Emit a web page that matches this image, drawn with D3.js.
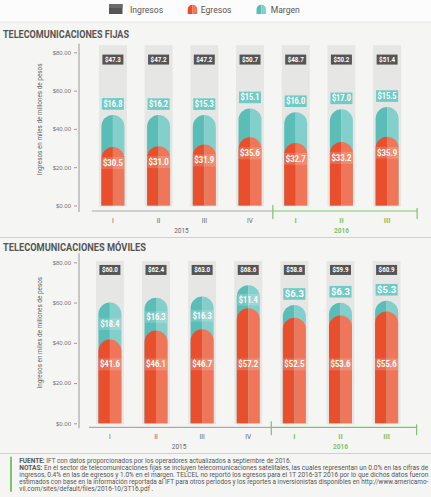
<!DOCTYPE html>
<html>
<head>
<meta charset="utf-8">
<script src="https://cdn.jsdelivr.net/npm/d3@7"></script>
<style>
  body { margin: 0; padding: 0; background: #f5f5f3; }
  svg { display: block; font-family: Roboto, "Open Sans", sans-serif; }
  .tick text { fill: #777; font-size: 6px; }
  .tick line { stroke: #999; }
</style>
</head>
<body>
<svg id="chart" width="431" height="497"></svg>
<script>
const width = 431;
const height = 497;

/* DATA */
const quarters = ["I", "II", "III", "IV", "I", "II", "III"];
const years = ["2015", "2015", "2015", "2015", "2016", "2016", "2016"];

const fijasIngresos = [47.3, 47.2, 47.2, 50.7, 48.7, 50.2, 51.4];
const fijasEgresos = [30.5, 31.0, 31.9, 35.6, 32.7, 33.2, 35.9];
const fijasMargen = [16.8, 16.2, 15.3, 15.1, 16.0, 17.0, 15.5];

const movilesIngresos = [60.0, 62.4, 63.0, 68.6, 58.8, 59.9, 60.9];
const movilesEgresos = [41.6, 46.1, 46.7, 57.2, 52.5, 53.6, 55.6];
const movilesMargen = [18.4, 16.3, 16.3, 11.4, 6.3, 6.3, 5.3];

const yTicks = [0, 20, 40, 60, 80];

const colors = {
  gray: "#555555",
  column: "#e6e6e5",
  orange: "#e94f2d",
  orangeLight: "#ef7659",
  teal: "#5bbdb8",
  tealLight: "#82cfcb",
  tealLabel: "#70cbc6",
  green: "#7cc56c",
  text: "#555555"
};

const svg = d3.select("svg#chart");

/* BACKGROUND */
svg.append("rect").attr("width", width).attr("height", height).attr("fill", "#f5f5f3");
svg.append("rect").attr("width", width).attr("height", 22).attr("fill", "#fcfcfc");
svg.append("line").attr("x1", 0).attr("x2", width).attr("y1", 22).attr("y2", 22)
  .attr("stroke", "#e8e8e6");

drawLegend();

drawPanel({
  title: "TELECOMUNICACIONES FIJAS",
  titleY: 38,
  titleLength: 126,
  ingresos: fijasIngresos,
  egresos: fijasEgresos,
  margen: fijasMargen,
  yRange: [205.5, 52.3],
  xRange: [90.2, 409.8],
  columnTop: 83.7,
  axisY: 211,
  tealInside: false,
  orangeFixed: null
});

svg.append("line").attr("x1", 0).attr("x2", width).attr("y1", 237.5).attr("y2", 237.5)
  .attr("stroke", "#cfcfcd").attr("stroke-width", 1);

drawPanel({
  title: "TELECOMUNICACIONES MÓVILES",
  titleY: 250.7,
  titleLength: 143,
  ingresos: movilesIngresos,
  egresos: movilesEgresos,
  margen: movilesMargen,
  yRange: [423.3, 262.3],
  xRange: [87, 409.5],
  columnTop: 80.6,
  axisY: 427.3,
  tealInside: true,
  orangeFixed: 29.3
});

drawFooter();


/* LEGEND */
function drawLegend() {
  const legend = svg.append("g").attr("id", "legend");

  legend.append("rect").attr("x", 109).attr("y", 4).attr("width", 13.5).attr("height", 10)
    .attr("fill", colors.gray);
  legend.append("rect").attr("x", 109).attr("y", 4).attr("width", 13.5).attr("height", 4)
    .attr("fill", "#6a6a6a");

  legend.append("g").call(g => drawHalves(g, 187.7, 14, 4.7, 9.6, colors.orange, colors.orangeLight));
  legend.append("g").call(g => drawHalves(g, 256.5, 14, 4.7, 9.6, colors.teal, colors.tealLight));

  const items = [["Ingresos", 130], ["Egresos", 200.7], ["Margen", 270.7]];
  legend.selectAll("text.legend-label")
    .data(items)
    .enter()
    .append("text")
    .attr("class", "legend-label")
    .attr("x", d => d[1])
    .attr("y", 12.8)
    .attr("font-size", 8.6)
    .attr("fill", colors.text)
    .text(d => d[0]);
}


/* PANEL */
function drawPanel(cfg) {
  const keys = quarters.map((q, i) => years[i] + "-" + q);

  const x = d3.scaleBand().domain(keys).range(cfg.xRange).paddingInner(0.387).paddingOuter(0.19);
  const y = d3.scaleLinear().domain([0, 80]).range(cfg.yRange);

  const step = x.step();
  const colW = 28;
  const barW = 23;
  const center = k => x(k) + x.bandwidth() / 2;

  const plot = svg.append("g");

  // title
  plot.append("text")
    .attr("x", 3)
    .attr("y", cfg.titleY)
    .attr("font-size", 10)
    .attr("font-weight", "bold")
    .attr("fill", colors.text)
    .attr("textLength", cfg.titleLength)
    .attr("lengthAdjust", "spacingAndGlyphs")
    .text(cfg.title);

  // y axis
  const yAxis = d3.axisLeft(y).tickValues(yTicks).tickSize(3).tickPadding(3)
    .tickFormat(d => "$" + d3.format(".2f")(d));
  const yGroup = plot.append("g").attr("transform", "translate(77,0)").call(yAxis);
  yGroup.select(".domain").remove();

  plot.append("line")
    .attr("x1", 79).attr("x2", 79)
    .attr("y1", y(84.5)).attr("y2", cfg.axisY + 1)
    .attr("stroke", "#999").attr("stroke-width", 1);

  const yTitle = plot.append("g").attr("transform", translate(40, y(45)));
  yTitle.append("text")
    .attr("transform", "rotate(-90)")
    .attr("text-anchor", "middle")
    .attr("dy", 2)
    .attr("font-size", 6.4)
    .attr("fill", "#666")
    .text("Ingresos en miles de millones de pesos");

  // background columns
  plot.selectAll("rect.column")
    .data(keys)
    .enter()
    .append("rect")
    .attr("class", "column")
    .attr("x", k => center(k) - colW / 2)
    .attr("y", y(cfg.columnTop))
    .attr("width", colW)
    .attr("height", y(0) + 1 - y(cfg.columnTop))
    .attr("fill", colors.column);

  // margen bars (total height = ingresos)
  keys.forEach((k, i) => {
    plot.append("g").call(g => drawHalves(g, center(k) - barW / 2, y(0), y(cfg.ingresos[i]), barW,
      colors.teal, colors.tealLight));
  });

  // egresos bars
  keys.forEach((k, i) => {
    plot.append("g").call(g => drawHalves(g, center(k) - barW / 2, y(0), y(cfg.egresos[i]), barW,
      colors.orange, colors.orangeLight));
  });

  // ingresos labels
  keys.forEach((k, i) => {
    const cy = y(76.2);
    plot.append("rect")
      .attr("x", center(k) - 10.5).attr("y", cy - 5)
      .attr("width", 21).attr("height", 10)
      .attr("fill", colors.gray);
    plot.append("text")
      .attr("x", center(k)).attr("y", cy + 2.3)
      .attr("text-anchor", "middle")
      .attr("font-size", 6.6)
      .attr("font-weight", "bold")
      .attr("fill", "#fff")
      .attr("textLength", 16)
      .attr("lengthAdjust", "spacingAndGlyphs")
      .text("$" + cfg.ingresos[i].toFixed(1));
  });

  // margen labels
  keys.forEach((k, i) => {
    const top = y(cfg.ingresos[i]);
    const low = y(cfg.egresos[i]);
    let cy = top - 11;
    let inside = false;
    if (cfg.tealInside && cfg.margen[i] >= 10) {
      cy = top + (low - top) / 2 + 3;
      inside = true;
    }
    plot.append("rect")
      .attr("x", center(k) - 11).attr("y", cy - 5.8)
      .attr("width", 22).attr("height", 11.6)
      .attr("fill", inside ? "#fff" : colors.tealLabel)
      .attr("fill-opacity", inside ? 0.18 : 1);
    plot.append("text")
      .attr("x", center(k)).attr("y", cy + 3)
      .attr("text-anchor", "middle")
      .attr("font-size", 8.4)
      .attr("font-weight", "bold")
      .attr("fill", "#fff")
      .attr("textLength", 19)
      .attr("lengthAdjust", "spacingAndGlyphs")
      .text("$" + cfg.margen[i].toFixed(1));
  });

  // egresos labels
  keys.forEach((k, i) => {
    const cy = cfg.orangeFixed === null ? y(cfg.egresos[i]) + 16 : y(cfg.orangeFixed);
    plot.append("rect")
      .attr("x", center(k) - 11.5).attr("y", cy - 6)
      .attr("width", 23).attr("height", 12)
      .attr("fill", "#fff")
      .attr("fill-opacity", 0.16);
    plot.append("text")
      .attr("x", center(k)).attr("y", cy + 3)
      .attr("text-anchor", "middle")
      .attr("font-size", 8.4)
      .attr("font-weight", "bold")
      .attr("fill", "#fff")
      .attr("textLength", 20)
      .attr("lengthAdjust", "spacingAndGlyphs")
      .text("$" + cfg.egresos[i].toFixed(1));
  });

  // x axis
  const split = (center(keys[3]) + center(keys[4])) / 2;
  const end = center(keys[6]) + 30;

  plot.append("line")
    .attr("x1", center(keys[0]) - 21).attr("x2", split)
    .attr("y1", cfg.axisY).attr("y2", cfg.axisY)
    .attr("stroke", "#aaa").attr("stroke-width", 1.2);
  plot.append("line")
    .attr("x1", split).attr("x2", end)
    .attr("y1", cfg.axisY).attr("y2", cfg.axisY)
    .attr("stroke", colors.green).attr("stroke-width", 1.2);
  [split, end].forEach((px, j) => {
    plot.append("line")
      .attr("x1", px).attr("x2", px)
      .attr("y1", cfg.axisY - (j === 0 ? 6 : 3)).attr("y2", cfg.axisY + 8)
      .attr("stroke", colors.green).attr("stroke-width", 1.2);
  });

  plot.selectAll("text.quarter")
    .data(keys)
    .enter()
    .append("text")
    .attr("class", "quarter")
    .attr("x", k => center(k))
    .attr("y", cfg.axisY + 11.5)
    .attr("text-anchor", "middle")
    .attr("font-size", (k, i) => years[i] === "2016" ? 7.5 : 6.5)
    .attr("font-weight", (k, i) => years[i] === "2016" ? "bold" : "normal")
    .attr("fill", (k, i) => years[i] === "2016" ? colors.green : "#666")
    .text((k, i) => quarters[i]);

  const yearList = Array.from(new Set(years));
  yearList.forEach(yr => {
    const ks = keys.filter((k, i) => years[i] === yr);
    const mid = (center(ks[0]) + center(ks[ks.length - 1])) / 2;
    plot.append("text")
      .attr("x", mid)
      .attr("y", cfg.axisY + 21.5)
      .attr("text-anchor", "middle")
      .attr("font-size", 6.5)
      .attr("font-weight", yr === "2016" ? "bold" : "normal")
      .attr("fill", yr === "2016" ? colors.green : "#666")
      .text(yr);
  });
}


/* FOOTER */
function drawFooter() {
  svg.append("line").attr("x1", 0).attr("x2", width).attr("y1", 453.5).attr("y2", 453.5)
    .attr("stroke", "#cfcfcd").attr("stroke-width", 1);

  svg.append("rect").attr("x", 10).attr("y", 456.7).attr("width", 2).attr("height", 35)
    .attr("fill", colors.green);

  const lines = [
    ["FUENTE:", " IFT con datos proporcionados por los operadores actualizados a septiembre de 2016.", 272],
    ["NOTAS:", " En el sector de telecomunicaciones fijas se incluyen telecomunicaciones satelitales, las cuales representan un 0.0% en las cifras de", 409],
    ["", "ingresos, 0.4% en las de egresos y 1.0% en el margen. TELCEL no reportó los egresos para el 1T 2016-3T 2016 por lo que dichos datos fueron", 409],
    ["", "estimados con base en la información reportada al IFT para otros periodos y los reportes a inversionistas disponibles en http://www.americamo-", 409],
    ["", "vil.com/sites/default/files/2016-10/3T16.pdf .", 134]
  ];

  lines.forEach((ln, i) => {
    const t = svg.append("text")
      .attr("x", 19.3)
      .attr("y", 463.4 + i * 6.9)
      .attr("font-size", 6.3)
      .attr("fill", "#555")
      .attr("textLength", ln[2])
      .attr("lengthAdjust", "spacingAndGlyphs");
    if (ln[0]) t.append("tspan").attr("font-weight", "bold").text(ln[0]);
    t.append("tspan").text(ln[1]);
  });
}


/*
 * Two-tone bar with a rounded top: darker left half, lighter right half
 */
function drawHalves(g, x0, yBase, yTop, w, dark, light) {
  const r = w / 2;
  const yArc = yTop + r;
  const left = "M" + x0 + "," + yBase +
    "L" + x0 + "," + yArc +
    "A" + r + "," + r + " 0 0 1 " + (x0 + r) + "," + yTop +
    "L" + (x0 + r) + "," + yBase + "Z";
  const right = "M" + (x0 + r) + "," + yBase +
    "L" + (x0 + r) + "," + yTop +
    "A" + r + "," + r + " 0 0 1 " + (x0 + w) + "," + yArc +
    "L" + (x0 + w) + "," + yBase + "Z";
  g.append("path").attr("d", left).attr("fill", dark);
  g.append("path").attr("d", right).attr("fill", light);
}

function translate(x, y) {
  return "translate(" + String(x) + "," + String(y) + ")";
}
</script>
</body>
</html>
